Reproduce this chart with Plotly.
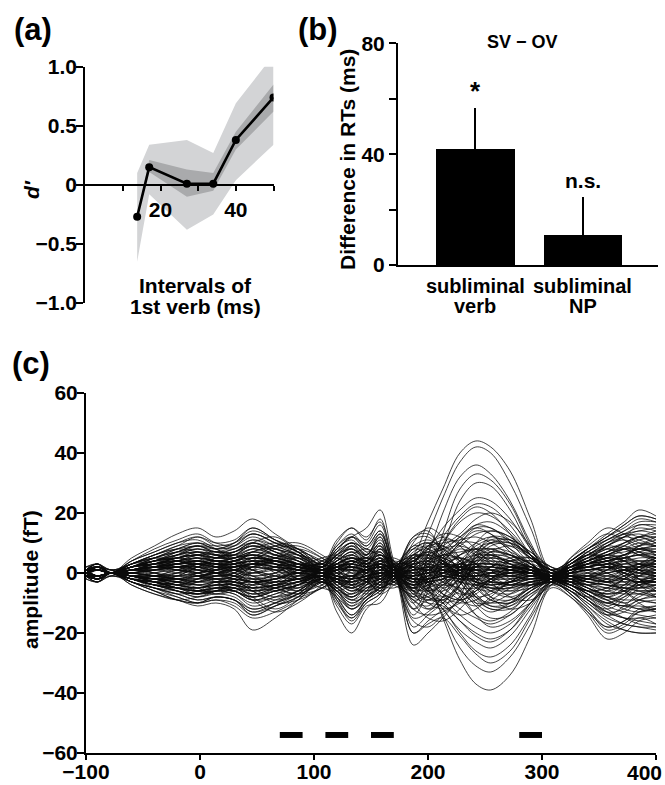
import plotly.graph_objects as go

# ---------------- Panel (a): d' vs interval ----------------
a_x = [13.8, 17, 27, 34, 40, 50]
a_dprime = [-0.27, 0.15, 0.01, 0.01, 0.38, 0.74]
a_outer_hi = [0.10, 0.34, 0.38, 0.27, 0.69, 1.10]
a_outer_lo = [-0.65, -0.08, -0.38, -0.25, 0.04, 0.34]
a_inner_hi = [-0.26, 0.21, 0.13, 0.10, 0.45, 0.85]
a_inner_lo = [-0.28, 0.11, -0.10, -0.05, 0.30, 0.62]
a_xticks = [10, 20, 30, 40, 50]
a_xticklabels = ["", "20", "", "40", ""]
a_yticks = [-1.0, -0.5, 0, 0.5, 1.0]
a_yticklabels = ["\u22121.0", "\u22120.5", "0", "0.5", "1.0"]

# ---------------- Panel (b): RT differences ----------------
b_pos = [0, 1]
b_cat_line1 = ["subliminal", "subliminal"]
b_cat_line2 = ["verb", "NP"]
b_vals = [41.6, 10.6]
b_err = [15.2, 13.9]
b_sig = ["*", "n.s."]
b_yticks = [0, 20, 40, 60, 80]
b_yticklabels = ["0", "", "40", "", "80"]

# ---------------- Panel (c): butterfly plot ----------------
c_t = [-100, -90, -78, -60, -40, -20, -2, 14, 30, 46, 66, 86, 107,
       120, 133, 146, 158, 170, 187, 200, 213,
       228, 242, 255, 272, 290, 308, 325, 340, 357, 372, 385, 400]
c_traces = [
    # large late positive
    [1, 3, 0, 4, 8, 11, 13, 10, 9, 12, 9, 6, 2, 6, 10, 6, 12, 2, 6, 17, 28, 40, 44, 42, 34, 18, 1, 4, 8, 12, 16, 19, 18],
    [-1, -2, 0, 2, 5, 7, 9, 7, 8, 11, 8, 5, 1, 4, 7, 4, 9, 1, 3, 13, 25, 37, 42, 40, 30, 15, 0, 3, 6, 10, 13, 15, 14],
    [0, 2, 0, -2, -4, -6, -7, -5, -6, -9, -7, -4, -1, -5, -9, -5, -3, 0, -6, 6, 20, 32, 36, 33, 24, 10, -1, 2, 5, 7, 10, 12, 10],
    [1, -1, 0, 3, 6, 9, 10, 8, 10, 15, 11, 7, 3, 8, 12, 10, 16, 2, -10, -2, 13, 28, 33, 31, 23, 9, -2, 1, 3, 4, 6, 8, 9],
    [0, 1, 0, -3, -5, -7, -9, -8, -9, -13, -10, -6, -2, -6, -11, -8, -5, -1, -14, -6, 8, 24, 30, 29, 21, 8, -1, -3, -6, -9, -7, -4, -3],
    [-1, 2, 0, 2, 3, 5, 6, 5, 7, 10, 7, 4, 1, 3, 5, 3, 6, 1, 2, 8, 15, 21, 25, 24, 18, 8, 0, 2, 4, 6, 9, 11, 12],
    [1, -2, 0, -1, -2, -3, -4, -3, -3, -5, -4, -3, -1, 2, 4, 2, 8, 1, -4, 3, 12, 19, 23, 22, 16, 6, -2, -4, -7, -10, -8, -6, -6],
    [0, 1, 0, 2, 4, 6, 8, 6, 6, 9, 6, 4, 2, 5, 8, 5, 10, 2, -2, 4, 10, 17, 20, 19, 14, 6, -1, 3, 7, 11, 14, 17, 17],
    # large late negative
    [-1, -3, 0, -3, -6, -9, -10, -8, -9, -14, -11, -7, -2, -7, -12, -8, -4, 0, 5, -3, -15, -29, -37, -39, -34, -21, -5, -8, -13, -18, -16, -12, -11],
    [1, 2, 0, 2, 4, 7, 9, 7, 7, 10, 7, 4, 0, 3, 5, 4, 8, 1, 2, -5, -14, -25, -31, -33, -28, -17, -4, -6, -10, -14, -13, -10, -9],
    [0, -1, 0, -2, -4, -6, -7, -6, -7, -11, -9, -6, -1, -9, -16, -10, -7, -1, -20, -17, -15, -21, -27, -30, -26, -15, -4, 2, 6, 9, 8, 6, 5],
    [1, 2, 0, 3, 5, 8, 10, 8, 9, 13, 10, 6, 1, 5, 8, 6, 13, 2, -6, -8, -12, -20, -26, -28, -24, -14, -3, -7, -12, -19, -17, -13, -12],
    [-1, -2, 0, -1, -3, -4, -5, -4, -4, -7, -5, -3, 0, -4, -8, -5, -2, 0, -1, -6, -12, -19, -23, -25, -21, -12, -3, 1, 3, 5, 4, 3, 2],
    [0, 1, 0, 1, 2, 3, 4, 3, 3, 5, 4, 2, 0, -3, -6, -3, 3, 0, -8, -10, -11, -16, -20, -22, -19, -11, -3, -5, -9, -13, -15, -15, -14],
    [1, -1, 0, -2, -3, -5, -6, -5, -5, -8, -6, -4, -1, -6, -10, -7, -3, -1, -12, -9, -9, -14, -18, -20, -17, -10, -2, 3, 7, 10, 12, 13, 11],
    [0, 2, 0, 2, 3, 4, 5, 4, 5, 7, 5, 3, 1, 2, 3, 2, 5, 1, 4, 0, -7, -12, -15, -17, -14, -8, -2, -4, -7, -10, -11, -12, -13],
    # medium
    [1, 3, 0, 5, 9, 13, 15, 12, 14, 18, 13, 8, 3, 9, 13, 9, 14, 2, -9, -7, -4, 2, 6, 7, 6, 3, -1, 4, 8, 13, 17, 21, 19],
    [-1, -3, 0, -4, -7, -9, -11, -10, -12, -19, -15, -9, -3, -8, -14, -9, -6, -1, 4, 6, 5, 2, -2, -4, -6, -5, -3, -7, -13, -20, -18, -15, -17],
    [0, 2, 0, 1, 3, 5, 7, 6, 6, 8, 6, 5, 2, 8, 12, 15, 21, 4, -12, -14, -13, -9, -4, -3, -4, -3, -2, -6, -11, -17, -19, -20, -20],
    [1, -2, 0, -2, -4, -6, -8, -7, -8, -12, -10, -7, -2, -13, -20, -12, -8, -1, -24, -20, -15, -8, 4, 8, 7, 3, -2, -5, -9, -14, -17, -18, -19],
    [-1, 2, 0, 3, 6, 9, 12, 10, 11, 15, 11, 7, 2, 10, 15, 11, 18, 3, -8, 2, 10, 18, 22, 20, 13, 4, -2, 3, 6, 9, 12, 16, 15],
    [0, -2, 0, -3, -6, -8, -10, -9, -10, -14, -11, -8, -2, -11, -17, -11, -10, -2, 12, 14, 6, -6, -14, -18, -16, -10, -3, 5, 10, 15, 13, 10, 9],
    [1, 3, 0, 2, 5, 8, 10, 9, 10, 13, 10, 7, 3, 11, 15, 12, 17, 2, -16, -18, -14, -9, -3, 2, 3, 2, -1, 4, 8, 12, 15, 18, 17],
    [-1, -2, 0, -3, -5, -7, -9, -8, -9, -13, -11, -8, -3, -6, -12, -8, -3, -1, 10, 15, 12, 5, -2, -8, -12, -10, -4, -8, -14, -22, -20, -16, -15],
    [0, 1, 0, 4, 7, 10, 12, 9, 8, 11, 9, 6, 2, 7, 10, 6, 11, 2, -3, 6, 8, 12, 16, 15, 11, 5, 0, -3, -7, -11, -8, -4, -2],
    [1, -1, 0, -2, -5, -8, -10, -9, -11, -15, -13, -9, -3, -9, -15, -10, -7, 0, -18, -14, -10, -4, 2, 6, 5, 1, -3, -6, -11, -16, -19, -20, -20],
    [0, 2, 0, 3, 5, 7, 8, 7, 9, 13, 10, 7, 2, 6, 9, 5, 10, 1, 12, 13, 8, 0, -8, -12, -11, -6, -2, 3, 7, 11, 14, 16, 16],
    [-1, -3, 0, -2, -4, -5, -6, -6, -7, -10, -8, -6, -2, -10, -15, -9, -6, 0, -20, -16, -12, -4, 6, 12, 11, 5, -1, -7, -12, -18, -16, -13, -12],
    [1, 2, 0, 2, 4, 6, 7, 5, 6, 9, 7, 5, 1, 4, 7, 3, 7, 1, 8, 10, 4, -5, -11, -15, -14, -8, -3, 2, 5, 8, 10, 12, 13],
    [0, -1, 0, -1, -3, -5, -7, -6, -6, -9, -7, -5, -2, -5, -8, -4, 1, -1, -15, -13, -8, 2, 10, 14, 12, 6, -1, -4, -8, -13, -15, -16, -17],
    [1, 3, 0, 3, 6, 8, 9, 8, 10, 14, 11, 8, 3, 9, 12, 8, 13, 2, -12, -5, 3, 10, 14, 13, 8, 2, -2, -5, -9, -14, -11, -7, -6],
    [-1, -2, 0, -3, -6, -9, -10, -8, -9, -12, -10, -7, -2, -7, -11, -6, -2, 1, 9, 8, 3, -3, -9, -12, -12, -7, -3, 4, 8, 12, 16, 19, 18],
    [0, 1, 0, 2, 4, 6, 7, 6, 7, 10, 8, 6, 2, 8, 11, 7, 9, 0, -10, -15, -16, -12, -6, -2, 0, 0, -2, -5, -9, -13, -12, -9, -8],
    [1, -1, 0, -2, -3, -5, -6, -5, -5, -7, -6, -4, -1, 5, 9, 6, 12, 2, 6, 9, 10, 11, 12, 10, 6, 2, -1, 5, 9, 13, 11, 8, 7],
    [0, 2, 0, 1, 2, 4, 5, 4, 4, 6, 5, 3, 1, -8, -14, -9, -5, -1, 11, 12, 7, 1, -5, -9, -10, -6, -3, -6, -10, -15, -17, -18, -18],
    [-1, -2, 0, -2, -4, -6, -7, -6, -6, -8, -6, -4, -1, 7, 12, 9, 14, 2, -5, 0, 5, 9, 13, 14, 12, 6, -1, 2, 4, 7, 9, 12, 12],
    # small
    [0, 1, 0, 1, 2, 3, 4, 3, 3, 5, 4, 3, 1, 2, 3, 2, 4, 1, 2, 3, 2, 3, 4, 4, 3, 1, -1, 1, 2, 3, 4, 5, 5],
    [0, -1, 0, -1, -2, -3, -3, -2, -3, -4, -3, -2, -1, -2, -4, -2, -1, 0, -3, -2, -1, -2, -3, -4, -3, -2, -2, -2, -3, -4, -5, -5, -5],
    [1, 2, 0, 2, 3, 4, 5, 4, 4, 6, 5, 3, 0, 3, 5, 3, 6, 1, -4, -3, 0, 4, 6, 6, 4, 1, -2, 2, 3, 5, 6, 7, 6],
    [-1, -2, 0, -1, -2, -3, -4, -4, -5, -6, -5, -3, -1, -3, -5, -3, -2, 0, 3, 4, 2, -1, -4, -5, -4, -2, -2, -3, -5, -7, -6, -5, -4],
    [0, 1, 0, 1, 1, 2, 2, 1, 2, 3, 2, 1, 0, 1, 2, 1, 2, 0, 1, 2, 1, 0, -1, -1, 0, 0, -1, 1, 1, 2, 2, 3, 3],
    [0, -1, 0, 0, -1, -1, -2, -1, -1, -2, -1, -1, 0, -1, -2, -1, 0, 0, -2, -1, 0, 1, 1, 0, -1, -1, -2, -1, -2, -3, -3, -2, -2],
    [1, 2, 0, 2, 3, 5, 6, 5, 5, 7, 5, 3, 1, 4, 6, 4, 7, 1, -3, 1, 4, 6, 8, 8, 6, 3, -1, 0, 1, 2, 3, 4, 4],
    [-1, -2, 0, -2, -3, -4, -5, -4, -4, -6, -5, -3, -1, -4, -7, -4, -2, 0, -6, -5, -3, -1, 1, 2, 1, 0, -2, -4, -6, -8, -9, -9, -10],
    [0, 1, 0, 1, 2, 3, 3, 2, 3, 4, 3, 2, 1, 3, 4, 2, 3, 0, 4, 5, 3, -1, -3, -4, -3, -1, -1, 1, 2, 4, 5, 6, 6],
    [0, -1, 0, -1, -1, -2, -3, -2, -2, -3, -3, -2, -1, 1, 2, 1, 3, 1, -2, -2, -1, 2, 3, 3, 2, 0, -2, -1, -1, -2, -2, -3, -3],
    [1, 1, 0, 1, 2, 2, 3, 3, 4, 5, 4, 2, 0, -2, -3, -1, 1, 0, 5, 6, 4, 1, -2, -3, -3, -1, -1, 2, 4, 6, 7, 8, 9],
    [-1, -1, 0, -1, -2, -3, -4, -3, -3, -5, -4, -3, -1, -3, -4, -2, 0, -1, -4, -3, -2, 0, 2, 3, 2, 1, -2, -2, -4, -5, -6, -7, -8],
    [0, 2, 0, 1, 2, 3, 4, 3, 4, 5, 4, 3, 1, 2, 4, 3, 5, 1, 1, 2, 2, 2, 3, 3, 2, 1, -1, 0, 1, 1, 2, 2, 2],
    [0, -2, 0, -1, -2, -2, -3, -3, -4, -5, -4, -2, 0, -2, -3, -2, -1, 0, -1, -1, -1, -2, -2, -3, -3, -2, -2, -3, -4, -6, -7, -7, -7],
    [1, 1, 0, 2, 3, 4, 4, 3, 3, 4, 3, 2, 0, 2, 3, 2, 3, 0, -2, -1, 1, 3, 5, 5, 4, 2, -1, 1, 3, 4, 5, 6, 7],
    [-1, -1, 0, -2, -3, -4, -5, -4, -5, -7, -5, -3, -1, -2, -4, -2, 1, 0, -3, -3, -2, -3, -4, -5, -5, -3, -2, 0, 1, 2, 1, 0, 0],
    [0, 1, 0, 0, 1, 1, 1, 1, 1, 2, 1, 1, 0, 0, 1, 0, 1, 0, -1, 0, 0, 1, 2, 2, 1, 0, -1, -1, -1, -1, -1, 0, 0],
    [0, -1, 0, 1, 1, 2, 3, 2, 2, 3, 2, 1, 0, 2, 3, 2, 3, 1, 2, 1, -1, -2, -2, -2, -1, 0, -2, 1, 2, 3, 4, 4, 4],
    [1, 2, 0, 1, 2, 3, 3, 2, 2, 3, 2, 1, 0, -1, -2, -1, 0, 0, 3, 3, 1, -1, -1, 0, 1, 1, -1, -2, -3, -4, -4, -3, -3],
    [-1, -2, 0, -1, -1, -2, -2, -2, -2, -3, -2, -1, -1, -2, -3, -2, -1, -1, -2, -2, -1, 1, 2, 2, 1, 0, -2, 1, 2, 3, 3, 3, 2],
    [0, 1, 0, 2, 4, 5, 6, 5, 5, 6, 4, 2, 0, 1, 2, 1, 2, 0, -1, 0, 1, 1, 1, 1, 1, 0, -1, 2, 3, 5, 6, 8, 8],
    [0, -1, 0, -2, -4, -5, -6, -5, -6, -8, -6, -4, -1, -5, -8, -5, -3, 0, -4, -2, 0, 2, 3, 3, 2, 1, -2, -1, -3, -4, -5, -6, -6],
    [1, 1, 0, 1, 2, 3, 4, 4, 5, 7, 6, 4, 1, 1, 1, 1, 3, 1, 3, 4, 3, 0, -3, -4, -3, -1, -1, 0, 0, 0, 1, 1, 1],
    [-1, -1, 0, 0, -1, -1, -1, 0, 0, -1, 0, 0, 0, 1, 1, 1, 2, 0, 0, 1, 2, 2, 2, 2, 1, 0, -1, -2, -2, -3, -4, -4, -4],
    [0, 2, 0, 1, 2, 2, 3, 3, 3, 4, 4, 2, 1, 3, 5, 3, 5, 1, -5, -4, -2, 1, 4, 5, 4, 2, -1, 2, 4, 6, 8, 9, 10],
    [0, -2, 0, -1, -2, -4, -5, -4, -4, -5, -4, -2, 0, -3, -5, -3, 0, 0, 5, 6, 3, 0, -3, -5, -5, -3, -2, -4, -7, -10, -11, -11, -12],
    [1, 1, 0, 1, 1, 2, 2, 2, 2, 3, 3, 2, 1, 2, 2, 1, 2, 0, 1, 1, 1, 0, 0, 0, 0, 0, -1, 1, 1, 2, 2, 2, 2],
    [-1, -1, 0, -1, -2, -2, -3, -3, -3, -4, -3, -2, 0, -1, -2, -1, 0, 0, -2, -2, -1, -1, -1, -1, -1, -1, -2, -1, -2, -2, -3, -3, -3],
    # mixed-pattern sensors
    [0, 1, 0, 2, 3, 2, -1, -3, -2, 2, 5, 6, 2, -3, -5, 1, 4, 2, -3, -1, 3, 5, 2, -2, -5, -4, -1, 2, 0, -3, -1, 2, 3],
    [-1, -1, 0, -1, 1, 3, 4, 2, -1, -4, -6, -3, 1, 4, 6, 2, -2, -1, 2, 5, 4, -1, -5, -6, -3, 1, 0, -2, -4, -2, 1, 3, 2],
    [1, 2, 0, 1, -1, -3, -2, 1, 4, 6, 3, -2, -2, 2, 3, -1, -5, -2, 4, 7, 5, 2, -3, -6, -7, -4, -2, 1, 4, 6, 4, 1, -1],
    [0, -2, 0, -2, -3, -1, 2, 4, 3, -1, -4, -5, -1, -4, -7, -4, 2, 2, 6, 3, -2, -6, -8, -7, -3, 0, -1, -3, -1, 2, 5, 6, 5],
    [1, 1, 0, 3, 5, 4, 2, 1, 3, 7, 8, 4, 0, -2, 1, 4, 6, 1, -7, -8, -2, 4, 9, 11, 8, 3, -2, -4, -6, -5, -2, 1, 4],
    [-1, -2, 0, -2, -2, 0, 3, 5, 6, 4, 0, -4, -2, 3, 5, 2, 0, -2, -5, -2, 4, 8, 6, 3, 1, 0, -2, 2, 5, 3, -1, -4, -6],
    [0, 2, 0, 1, 3, 5, 3, 0, -3, -6, -4, 0, 2, 6, 8, 3, -3, -2, 1, -3, -7, -9, -6, -2, 2, 2, 0, -3, -6, -9, -11, -9, -7],
    [0, -1, 0, 0, 2, 4, 6, 7, 5, 1, -2, 1, 3, 0, -4, -6, -4, 1, 8, 10, 6, 1, -1, 0, 2, 1, -1, -2, 0, 3, 6, 9, 11],
    [1, 2, 0, -1, -3, -4, -2, 0, 1, -1, -3, -6, -3, -6, -9, -6, 0, 2, -2, -6, -8, -4, 3, 7, 9, 6, 1, 4, 7, 4, 0, -3, -4],
    [-1, -1, 0, 1, 2, 1, -1, -2, 0, 3, 2, -1, -1, 1, 4, 5, 2, -1, -5, -3, 2, 6, 10, 12, 10, 5, 0, -2, -5, -7, -4, -1, 1],
    [0, 1, 0, 2, 4, 7, 9, 6, 3, 0, 2, 5, 2, -1, -3, 0, 5, 2, -2, 2, 6, 4, -2, -6, -8, -5, -2, 0, 3, 5, 8, 10, 9],
    [0, -2, 0, -1, -3, -6, -8, -6, -3, 0, -2, -5, -2, 1, 3, 0, -4, -1, 3, 0, -4, -3, 2, 5, 6, 3, -1, -3, -5, -8, -10, -12, -11],
    [1, 1, 0, 1, 0, -2, -4, -5, -3, 1, 4, 3, 0, 2, 0, -3, -2, 1, 4, 8, 9, 5, -1, -5, -6, -3, -2, 1, 2, 0, -2, -3, -2],
    [-1, -2, 0, -2, -1, 1, 2, 0, -2, -5, -8, -6, -1, -5, -2, 3, 6, 3, -1, -5, -6, -2, 4, 6, 3, 0, -1, 2, 4, 7, 8, 6, 4],
    [0, 2, 0, 3, 6, 8, 7, 5, 6, 10, 12, 7, 1, 3, 6, 8, 5, -1, -9, -11, -6, 0, 5, 6, 3, 0, -2, -1, 2, 4, 2, -2, -5],
    [0, -1, 0, -3, -5, -7, -6, -3, -4, -8, -12, -8, -2, -1, 3, 6, 7, 1, -4, -1, 4, 10, 15, 15, 10, 3, -2, -4, -2, 1, 4, 7, 8],
    [1, 2, 0, 0, -1, 0, 2, 3, 1, -2, -1, 2, 3, 5, 2, -2, -6, -3, 3, 9, 12, 9, 3, -3, -8, -9, -4, 0, 3, 2, 0, -2, -3],
    [-1, -1, 0, 1, 3, 4, 3, 1, -1, -3, -2, 0, -2, -6, -10, -7, -1, 1, 0, -4, -10, -14, -12, -8, -3, 0, -1, 2, 5, 9, 12, 14, 13],
    [0, 1, 0, -1, -2, -2, 0, 2, 4, 7, 9, 8, 3, 0, -1, 0, 2, 0, -1, 1, 3, 2, 0, -1, -1, 0, -2, -4, -7, -11, -13, -14, -15],
    [0, -1, 0, 2, 4, 5, 4, 3, 2, 3, 1, -3, -3, -4, -2, 2, 6, 3, 0, -2, -5, -9, -11, -9, -5, -1, 0, 3, 6, 8, 6, 3, 1],
    [1, 2, 0, -2, -4, -5, -5, -3, -1, 2, 4, 5, 1, 4, 7, 5, 2, -1, 1, 4, 7, 12, 15, 13, 7, 1, -2, -5, -8, -10, -7, -3, 0],
    [-1, -2, 0, 0, 1, 3, 5, 4, 2, -2, -5, -7, -3, 0, 2, 1, -1, 0, 7, 9, 5, -2, -8, -11, -10, -5, -2, 1, 2, 4, 6, 8, 7],
    [0, 1, 0, 1, 1, 0, -1, 0, 2, 4, 3, 1, 0, -2, -5, -6, -3, 1, 2, 0, -3, -5, -5, -3, 0, 2, 0, 2, 4, 2, -1, -4, -8],
    [0, -1, 0, -1, 0, 2, 3, 2, 1, 0, 1, 2, 1, 3, 5, 4, 1, 0, -6, -9, -9, -6, -1, 2, 4, 4, 1, -1, -3, -5, -5, -6, -8],
    [1, 1, 0, 2, 2, 1, 0, -1, 0, 2, 1, -2, -1, 0, -1, -3, -5, -1, 6, 5, 1, -3, -4, -2, 1, 2, -1, -3, -4, -3, 0, 3, 6],
    [-1, -1, 0, -1, -2, -4, -3, -1, 1, 3, 5, 3, 0, -3, -3, 0, 3, 1, -3, -6, -4, 0, 5, 9, 10, 6, 1, 0, -1, -3, -6, -9, -10],
    [0, 2, 0, 2, 5, 7, 6, 3, 0, -3, -5, -4, 1, 6, 10, 7, 2, -2, -8, -5, 0, 3, 1, -2, -4, -3, -2, -4, -6, -8, -5, -1, 2],
    [0, -2, 0, -1, -2, -3, -5, -7, -6, -4, 0, 3, 1, -3, -6, -3, 3, 2, 9, 11, 8, 4, 0, -3, -4, -2, -1, 3, 6, 10, 13, 12, 10],
    [1, 1, 0, 0, 1, 2, 1, 0, -1, -2, -3, -2, 0, 1, 1, 0, 0, 0, 1, 2, 1, -1, -2, -1, 0, 1, -1, 0, 1, 2, 1, 0, -1],
    [-1, -1, 0, 0, -1, -2, -1, 0, 1, 1, 2, 1, 0, -1, -1, 1, 2, 0, -2, -3, -2, 0, 1, 1, 0, -1, -2, -1, 0, -1, -2, -3, -2],
    [0, 1, 0, 1, 2, 1, 0, 1, 2, 2, 1, 0, -1, -2, -1, 1, 2, 1, 0, 2, 3, 2, 0, -2, -2, -1, -1, 1, 2, 3, 2, 1, 0],
    [0, -1, 0, -2, -3, -2, -1, -2, -3, -3, -2, 0, 1, 2, 1, -1, -2, -1, -1, 0, 2, 3, 2, 1, -1, -2, -2, -3, -2, 0, 1, 0, -1],
    [1, 2, 0, 1, 3, 6, 8, 7, 7, 9, 8, 6, 4, 2, -2, -4, -1, 2, 6, 4, -1, -6, -10, -10, -7, -3, -1, -2, -5, -8, -6, -3, -1],
    [-1, -2, 0, -1, -3, -5, -6, -4, -2, -3, -5, -7, -5, -1, 3, 5, 4, 0, -4, 1, 6, 10, 10, 7, 3, 0, -1, 3, 6, 4, 1, -1, -2],
    [0, 1, 0, 2, 4, 5, 6, 4, 5, 8, 6, 3, -1, -5, -8, -3, 4, 3, 3, -2, -7, -9, -7, -3, 1, 3, 0, -1, -2, -1, 1, 3, 5],
    [0, -1, 0, -1, -1, 0, 1, 3, 5, 6, 3, 0, 0, 2, 4, 2, -1, -1, -9, -12, -8, -1, 6, 10, 10, 6, 1, 3, 5, 8, 9, 7, 5],
    # further sensors
    [2, 3, 1, 3, 5, 4, 3, 5, 7, 9, 6, 2, -3, -5, -2, 3, 2, -3, -6, -4, 1, 6, 8, 5, 0, -3, -3, 0, 3, 6, 8, 7, 4],
    [-2, -3, -1, -2, -4, -3, -1, -3, -6, -8, -5, -1, 4, 5, 1, -2, -1, 3, 5, 2, -3, -7, -6, -2, 2, 4, 1, -2, -5, -7, -6, -3, -1],
    [1, 2, 1, 0, 2, 6, 9, 8, 4, 2, 5, 7, 4, 0, -4, -7, -5, -3, 1, 5, 8, 9, 7, 4, 1, -1, -3, -6, -8, -6, -2, 2, 5],
    [-1, -2, -1, 1, 0, -3, -6, -7, -5, -2, -4, -6, -3, 2, 5, 3, -2, -4, -7, -3, 2, 5, 3, -1, -4, -4, -2, 3, 6, 5, 2, -2, -6],
    [0, 2, 1, 2, 4, 6, 5, 2, 1, 4, 8, 9, 5, 1, -1, 2, 8, 4, -4, -10, -12, -10, -5, 0, 4, 5, 2, -1, -4, -8, -10, -8, -5],
    [1, -1, -1, -2, -4, -5, -3, -1, -2, -6, -9, -7, -4, -2, 0, -2, -7, -4, 3, 9, 13, 12, 8, 3, -2, -4, -3, 0, 4, 9, 12, 11, 9],
    [-1, 1, 1, 1, 2, 3, 4, 6, 8, 10, 7, 3, 0, 4, 9, 6, 1, -3, -5, 0, 5, 11, 16, 17, 13, 6, 0, -3, -6, -9, -12, -13, -12],
    [2, 2, 0, -1, -3, -5, -6, -5, -6, -9, -8, -4, 0, -4, -9, -8, -4, 2, 8, 6, -1, -8, -14, -16, -13, -6, -1, 2, 4, 7, 10, 12, 14],
    [0, -2, 0, 2, 3, 3, 1, -1, 0, 3, 4, 2, -2, -6, -7, -2, 3, 4, 2, -4, -8, -10, -9, -6, -2, 1, -1, -2, -1, 1, 3, 2, 0],
    [-2, 2, 1, -1, -2, -1, 2, 4, 3, 1, -1, -2, 2, 6, 8, 4, -1, -3, -1, 3, 6, 7, 8, 6, 2, -1, -2, 1, 2, 0, -3, -5, -4],
    [1, 3, 1, 3, 4, 5, 6, 4, 2, 5, 9, 10, 6, 3, 2, 4, 9, 3, -6, -12, -10, -4, 3, 7, 6, 2, -1, 1, 3, 5, 4, 1, -2],
    [-1, -3, -1, -3, -5, -6, -7, -5, -3, -6, -10, -9, -5, -2, -1, -3, -6, -2, 5, 10, 9, 4, -3, -8, -9, -5, -2, -4, -6, -5, -2, 1, 4],
    [0, 1, 0, 1, 3, 4, 2, 0, 2, 5, 4, 0, -3, -1, 3, 5, 3, -1, -4, -8, -9, -3, 5, 10, 11, 7, 1, -2, -4, -6, -4, 0, 3],
    [1, -1, 0, -1, -2, -4, -2, 1, 0, -3, -2, 1, 3, 1, -3, -5, -3, 1, 4, 7, 8, 3, -4, -9, -10, -6, -2, 1, 3, 6, 8, 8, 7],
    [-1, 2, 0, 2, 3, 2, 0, -2, -1, 2, 3, 1, -1, 3, 6, 3, -2, -4, 0, 4, 6, 5, 3, 1, 0, 0, -2, -5, -9, -12, -9, -5, -2],
    [0, -1, 0, -1, -1, 1, 3, 3, 1, -1, 0, 3, 2, -2, -6, -4, 1, 3, 2, -3, -5, -2, 2, 4, 3, 1, -1, 2, 5, 9, 11, 9, 6],
    [2, 3, 0, 4, 7, 10, 11, 8, 6, 8, 10, 8, 3, -2, -5, -2, 4, 1, -7, -9, -5, 2, 7, 8, 5, 1, -2, -3, -2, 1, 5, 9, 12],
    [-2, -3, 0, -4, -7, -9, -8, -6, -5, -9, -13, -10, -4, 1, 4, 1, -5, -2, 6, 8, 4, -3, -10, -13, -10, -4, -1, 2, 1, -2, -6, -10, -13],
    [0, 1, 0, 0, 1, 2, 2, 2, 3, 4, 3, 1, 2, 3, 2, 0, -2, 2, 4, 2, 0, -1, -1, 0, 1, 2, 0, -1, -2, -3, -2, -1, 0],
    [0, -1, 0, 0, -1, -2, -2, -1, -2, -3, -2, 0, -2, -3, -2, 1, 3, -2, -4, -2, 0, 1, 1, 0, -1, -2, -1, 1, 2, 3, 2, 1, 1],
    [1, 2, 0, 1, 0, -1, 0, 2, 4, 5, 3, 0, 4, 7, 10, 8, 6, 4, -2, -7, -10, -8, -3, 2, 5, 5, 2, 0, -2, -3, -1, 2, 4],
    [-1, -2, 0, -1, 0, 1, 0, -2, -4, -5, -3, 0, -4, -8, -12, -9, -5, -3, 3, 8, 11, 10, 6, 1, -3, -4, -2, 1, 3, 2, 0, -2, -3],
    [0, 2, 0, 2, 4, 3, 1, 0, 1, 3, 2, -2, -5, -6, -4, 0, 4, 5, 1, -3, -4, 1, 7, 11, 11, 7, 2, -1, -3, -4, -5, -4, -3],
    [0, -2, 0, -2, -4, -3, -1, 0, -1, -3, -2, 2, 5, 6, 4, 0, -4, -5, -1, 3, 4, -1, -7, -11, -11, -7, -2, 1, 3, 4, 5, 4, 3],
    [1, 1, 0, 1, 2, 4, 6, 6, 5, 6, 4, 1, -1, 1, 4, 2, -3, -2, 2, 6, 9, 13, 18, 20, 17, 9, 1, -1, -3, -2, 0, 2, 3],
    [-1, -1, 0, -1, -2, -4, -6, -6, -5, -6, -4, -1, 1, -1, -4, -3, 2, 2, -2, -6, -10, -16, -21, -23, -19, -10, -2, 1, 4, 6, 5, 3, 1],
    [0, 1, 0, 1, 2, 2, 1, 0, -1, 0, 2, 3, 1, -1, -2, -1, 0, 1, 0, 0, 1, 2, 1, -1, -2, -1, -1, 0, 1, 1, 0, -1, -1],
    [0, -1, 0, -1, -2, -1, 0, 1, 2, 1, -1, -2, 0, 1, 2, 1, 0, -1, 1, 1, 0, -1, 0, 1, 2, 1, -1, -1, -1, 0, 1, 1, 0],
    [1, 2, 0, 2, 3, 5, 7, 6, 4, 3, 6, 8, 5, 2, 0, 1, 4, 0, -5, -6, -3, 3, 8, 10, 9, 5, 1, 4, 8, 11, 13, 14, 15],
    [-1, -2, 0, -2, -3, -5, -7, -6, -4, -3, -6, -8, -5, -3, -1, -2, -4, 0, 5, 7, 4, -2, -8, -10, -9, -5, -1, -4, -8, -12, -15, -17, -18],
]
c_sig_start = [70, 110, 150, 280]
c_sig_end = [90, 130, 170, 300]
c_sig_level = -54
c_xticks = [-100, 0, 100, 200, 300, 400]
c_xticklabels = ["\u2212100", "0", "100", "200", "300", "400"]
c_yticks = [-60, -40, -20, 0, 20, 40, 60]

bad = [i for i, r in enumerate(c_traces) if len(r) != len(c_t)]
if bad:
    raise ValueError("bad rows: %s" % bad)

FONT = "Liberation Sans, Arial, Helvetica, sans-serif"
TICKF = dict(family=FONT, size=21, color="black", weight="bold")

fig = go.Figure()

# ---- panel (a)
fig.add_trace(go.Scatter(
    x=a_x + a_x[::-1], y=a_outer_hi + a_outer_lo[::-1], fill="toself",
    fillcolor="#d3d4d6", line=dict(width=0), mode="lines",
    xaxis="x", yaxis="y", hoverinfo="skip", showlegend=False))
fig.add_trace(go.Scatter(
    x=a_x + a_x[::-1], y=a_inner_hi + a_inner_lo[::-1], fill="toself",
    fillcolor="#a9aaac", line=dict(width=0), mode="lines",
    xaxis="x", yaxis="y", hoverinfo="skip", showlegend=False))
fig.add_trace(go.Scatter(
    x=a_x, y=a_dprime, mode="lines+markers",
    line=dict(color="black", width=2.6), marker=dict(color="black", size=8),
    xaxis="x", yaxis="y", showlegend=False))

# ---- panel (b)
fig.add_trace(go.Bar(
    x=b_pos, y=b_vals, width=0.73, marker=dict(color="black", line=dict(width=0)),
    error_y=dict(type="data", symmetric=False, array=b_err, arrayminus=[0, 0],
                 width=0, thickness=2.2, color="black"),
    xaxis="x2", yaxis="y2", showlegend=False))

# ---- panel (c)
for row in c_traces:
    fig.add_trace(go.Scatter(
        x=c_t, y=row, mode="lines",
        line=dict(color="rgba(10,10,10,0.9)", width=0.85, shape="spline", smoothing=1.0),
        xaxis="x3", yaxis="y3", hoverinfo="skip", showlegend=False))
sx, sy = [], []
for s, e in zip(c_sig_start, c_sig_end):
    sx += [s, e, None]
    sy += [c_sig_level, c_sig_level, None]
fig.add_trace(go.Scatter(x=sx, y=sy, mode="lines", line=dict(color="black", width=6),
                         xaxis="x3", yaxis="y3", showlegend=False))

ax_common = dict(showgrid=False, zeroline=False, showline=True, linecolor="black",
                 linewidth=2, tickcolor="black", tickwidth=2, tickfont=TICKF,
                 automargin=False, ticklabeloverflow="allow")
ov_common = dict(showticklabels=False, showgrid=False, zeroline=False, showline=False,
                 tickcolor="black", tickwidth=2, automargin=False)

a_ydom = [0.614, 0.915]
a_xpos = (a_ydom[0] + a_ydom[1]) / 2
fig.update_layout(
    width=665, height=785, margin=dict(l=0, r=0, t=0, b=0, autoexpand=False),
    paper_bgcolor="white", plot_bgcolor="rgba(0,0,0,0)",
    font=dict(family=FONT, color="black"),
    xaxis=dict(domain=[0.1281, 0.4113], range=[0, 50], anchor="free", position=a_xpos,
               tickvals=a_xticks, ticktext=a_xticklabels, ticks="outside", ticklen=5,
               ticklabelstandoff=1, **ax_common),
    xaxis4=dict(overlaying="x", range=[0, 50], anchor="free", position=a_xpos,
                tickvals=a_xticks, ticks="inside", ticklen=5, **ov_common),
    yaxis=dict(domain=a_ydom, range=[-1, 1], anchor="x", tickvals=a_yticks,
               ticktext=a_yticklabels, ticks="outside", ticklen=7,
               ticklabelstandoff=-5, **ax_common),
    xaxis2=dict(domain=[0.5985, 0.9895], range=[-0.72, 1.70], anchor="y2",
                showticklabels=False, ticks="", **{k: v for k, v in ax_common.items() if k != "tickfont"}),
    yaxis2=dict(domain=[0.6624, 0.9448], range=[0, 80], anchor="x2", tickvals=b_yticks,
                ticktext=b_yticklabels, ticks="outside", ticklen=7, **ax_common),
    # last label (at the right page edge) is drawn as an annotation below
    xaxis3=dict(domain=[0.1293, 0.9865], range=[-100, 400], anchor="y3", tickvals=c_xticks,
                ticktext=c_xticklabels[:-1] + [""],
                ticks="outside", ticklen=5, ticklabelstandoff=-6, **ax_common),
    xaxis5=dict(overlaying="x3", range=[-100, 400], anchor="y3", tickvals=c_xticks,
                ticks="inside", ticklen=5, **ov_common),
    yaxis3=dict(domain=[0.0408, 0.4994], range=[-60, 60], anchor="x3", tickvals=c_yticks,
                ticks="outside", ticklen=7, ticklabelstandoff=-5, **ax_common),
    bargap=0,
)

def ann(text, x, y, size=21, angle=0, xanchor="center", xref="paper", yref="paper",
        yshift=0, italic=False):
    fig.add_annotation(text=text, x=x, y=y, xref=xref, yref=yref, showarrow=False,
                       textangle=angle, xanchor=xanchor, yanchor="middle", yshift=yshift,
                       font=dict(family=FONT, size=size, color="black", weight="bold",
                                 style="italic" if italic else "normal"))

H = 785.0
W = 665.0
# panel labels
ann("(a)", 12 / W, 1 - 30 / H, size=31, xanchor="left")
ann("(b)", 296 / W, 1 - 30 / H, size=31, xanchor="left")
ann("(c)", 10 / W, 1 - 363 / H, size=31, xanchor="left")
# panel (a) texts
ann("d\u2032", 32 / W, 1 - 190 / H, angle=-90, italic=True)
ann("Intervals of", 195 / W, 1 - 286 / H)
ann("1st verb (ms)", 196 / W, 1 - 306 / H)
# panel (b) texts
ann("SV \u2212 OV", 522 / W, 1 - 42 / H, size=18)
ann("Difference in RTs (ms)", 348 / W, 1 - 160 / H, angle=-90)
for p, l1, l2 in zip(b_pos, b_cat_line1, b_cat_line2):
    ann(l1, p, 1 - 286 / H, size=20, xref="x2")
    ann(l2, p, 1 - 306 / H, size=20, xref="x2")
ann(b_sig[0], b_pos[0], b_vals[0] + b_err[0], size=26, xref="x2", yref="y2", yshift=17)
ann(b_sig[1], b_pos[1], b_vals[1] + b_err[1], size=21, xref="x2", yref="y2", yshift=17)
# panel (c)
ann("amplitude (fT)", 30 / W, 1 - 580 / H, angle=-90)
ann(c_xticklabels[-1], 664 / W, 1 - 772 / H, xanchor="right")

fig.write_html("out.html", config={"displayModeBar": False},
               post_script="document.body.style.margin='0';document.body.style.padding='0';"
                           "document.documentElement.style.overflow='hidden';")
